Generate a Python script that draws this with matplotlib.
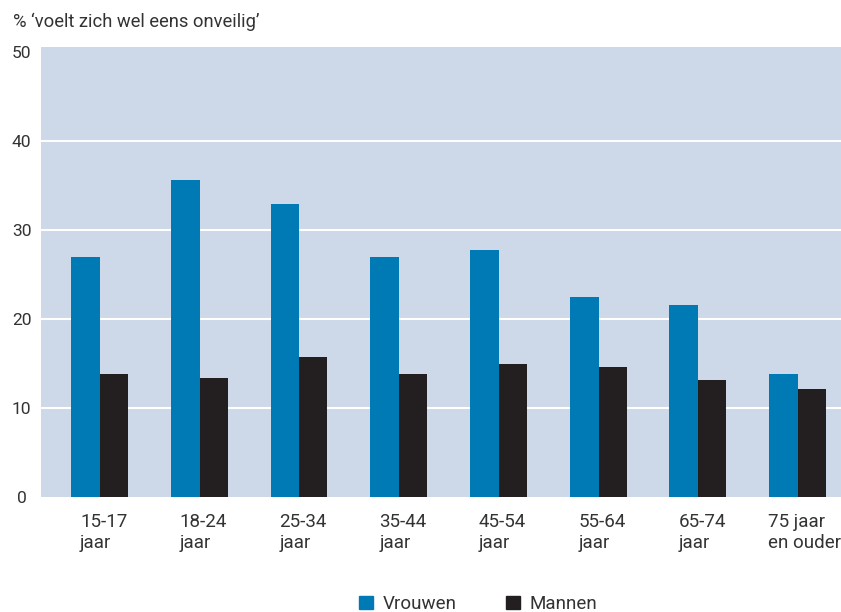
import matplotlib.pyplot as plt
from matplotlib.patches import Patch
import matplotlib.transforms as mtransforms
import numpy as np

plt.rcParams['font.family'] = ['Roboto', 'DejaVu Sans']

# Data
groups = ['15-17\njaar', '18-24\njaar', '25-34\njaar', '35-44\njaar',
          '45-54\njaar', '55-64\njaar', '65-74\njaar', '75 jaar\nen ouder']
vrouwen = [27.0, 35.6, 32.9, 27.0, 27.8, 22.5, 21.6, 13.8]
mannen = [13.8, 13.4, 15.7, 13.8, 15.0, 14.6, 13.1, 12.2]
yticks = [0, 10, 20, 30, 40, 50]

blue = '#007ab5'
dark = '#231f20'
bg = '#cdd9e9'
txt = '#333333'

fig = plt.figure(figsize=(8.41, 6.12), dpi=100)
ax = fig.add_axes([41/841, 115/612, 800/841, 450/612])
ax.set_facecolor(bg)

x = np.arange(len(groups))
# blue bar left of the centre, dark bar right of it
ax.bar(x - 0.29, vrouwen, width=0.29, align='edge', color=blue, zorder=3)
ax.bar(x, mannen, width=0.28, align='edge', color=dark, zorder=3)

for t in yticks[1:-1]:
    ax.axhline(t, color='white', lw=1.5, zorder=1)

ax.set_xlim(-0.592, 7.43)
ax.set_ylim(0, 50.6)
ax.set_yticks(yticks)
ax.set_xticks([])
ax.tick_params(axis='y', length=0, pad=14, labelsize=12.5, labelcolor=txt)
for lab in ax.get_yticklabels():
    lab.set_ha('center')
for s in ax.spines.values():
    s.set_visible(False)

# category labels, left aligned under each pair
trans = mtransforms.blended_transform_factory(ax.transData, ax.transAxes)
for i, g in enumerate(groups):
    off = 0.3 if i == len(groups) - 1 else 0.2
    ax.text(i - off, -0.036, g, transform=trans, ha='left', va='top',
            fontsize=13.5, color=txt, linespacing=1.2)

fig.text(13/841, 1 - 27/612, '% \u2018voelt zich wel eens onveilig\u2019',
         fontsize=13.2, color=txt, va='baseline', ha='left')

handles = [Patch(color=blue, label='Vrouwen'), Patch(color=dark, label='Mannen')]
fig.legend(handles=handles, loc='center', bbox_to_anchor=(478/841, 1 - 604/612),
           ncol=2, frameon=False, fontsize=13.5, handlelength=0.75,
           handleheight=0.75, handletextpad=0.53, columnspacing=2.6,
           borderpad=0, labelcolor=txt)

plt.savefig('out.png', dpi=100)
